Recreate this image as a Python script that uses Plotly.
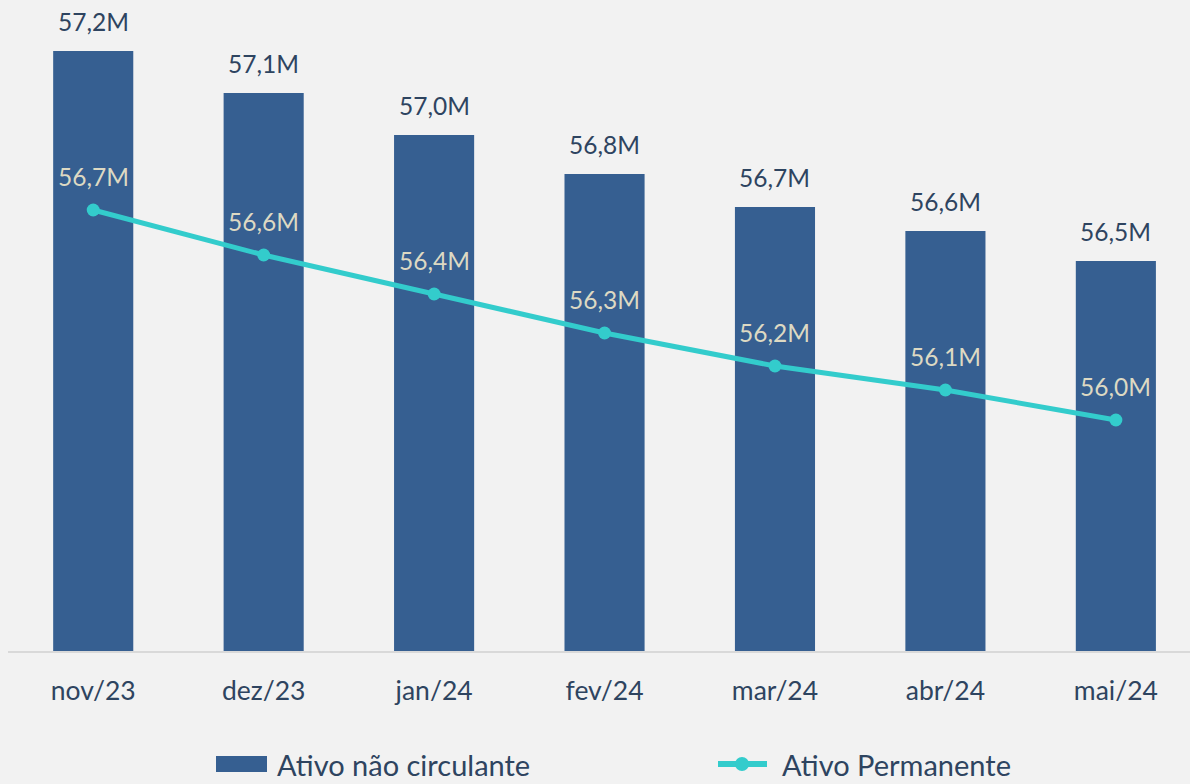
import plotly.graph_objects as go

categories = ["nov/23", "dez/23", "jan/24", "fev/24", "mar/24", "abr/24", "mai/24"]
ativo_nao_circulante = [57.24, 57.10, 56.96, 56.83, 56.72, 56.64, 56.54]
ativo_permanente = [56.71, 56.56, 56.43, 56.30, 56.19, 56.11, 56.01]
series_names = ["Ativo não circulante", "Ativo Permanente"]


def fmt(v):
    return f"{v:.1f}M".replace(".", ",")


FONT = "Lato, 'Open Sans', sans-serif"
BAR_COLOR = "#365f91"
LINE_COLOR = "#33cccc"
TEXT_DARK = "#2e4460"
TEXT_LIGHT = "#ddd9c3"
W, H = 1190, 784
ML, MR, MT, MB = 8, 0, 0, 133
PW, PH = W - ML - MR, H - MT - MB
LEG_Y = 764


def px(x):  # page pixel -> paper x
    return (x - ML) / PW


def py(y):  # page pixel -> paper y
    return (H - MB - y) / PH


fig = go.Figure()
fig.add_trace(go.Bar(
    x=categories, y=ativo_nao_circulante, name=series_names[0],
    marker=dict(color=BAR_COLOR, line=dict(width=0)),
))
fig.add_trace(go.Scatter(
    x=categories, y=ativo_permanente, name=series_names[1],
    mode="lines+markers",
    line=dict(color=LINE_COLOR, width=5),
    marker=dict(color=LINE_COLOR, size=13),
))

annotations = []
for c, v in zip(categories, ativo_nao_circulante):
    annotations.append(dict(x=c, y=v, text=fmt(v), showarrow=False, xref="x", yref="y",
                            yanchor="middle", yshift=30,
                            font=dict(family=FONT, size=24.5, color=TEXT_DARK)))
for c, v in zip(categories, ativo_permanente):
    annotations.append(dict(x=c, y=v, text=fmt(v), showarrow=False, xref="x", yref="y",
                            yanchor="middle", yshift=34,
                            font=dict(family=FONT, size=24.5, color=TEXT_LIGHT)))

# manual legend (plotly's own legend would push the margins)
legend_font = dict(family=FONT, size=29, color=TEXT_DARK)
annotations.append(dict(x=px(275), y=py(LEG_Y), xref="paper", yref="paper", text=series_names[0],
                        showarrow=False, xanchor="left", yanchor="middle", font=legend_font))
annotations.append(dict(x=px(780), y=py(LEG_Y), xref="paper", yref="paper", text=series_names[1],
                        showarrow=False, xanchor="left", yanchor="middle", font=legend_font))
shapes = [
    dict(type="rect", xref="paper", yref="paper", x0=px(216), x1=px(267),
         y0=py(LEG_Y + 8), y1=py(LEG_Y - 8), fillcolor=BAR_COLOR, line=dict(width=0)),
    dict(type="line", xref="paper", yref="paper", x0=px(718), x1=px(767),
         y0=py(LEG_Y), y1=py(LEG_Y), line=dict(color=LINE_COLOR, width=6)),
    dict(type="circle", xref="paper", yref="paper", x0=px(735), x1=px(749),
         y0=py(LEG_Y + 7), y1=py(LEG_Y - 7), fillcolor=LINE_COLOR, line=dict(width=0)),
]

fig.update_layout(
    width=W, height=H, autosize=False,
    margin=dict(l=ML, r=MR, t=MT, b=MB),
    paper_bgcolor="#f2f2f2", plot_bgcolor="#f2f2f2",
    bargap=0.53,
    showlegend=False,
    annotations=annotations,
    shapes=shapes,
    font=dict(family=FONT),
)
fig.update_xaxes(
    range=[-0.5, 6.435], showgrid=False, showline=True, linecolor="#d9d9d9", linewidth=2,
    tickfont=dict(family=FONT, size=26.5, color=TEXT_DARK), ticks="", ticklabelstandoff=15,
)
fig.update_yaxes(range=[55.24, 57.41], visible=False, showgrid=False, zeroline=False)

fig.write_html(
    "out.html",
    config={"displayModeBar": False},
    post_script=(
        "document.documentElement.style.margin='0';"
        "document.body.style.margin='0';"
        "document.body.style.background='#f2f2f2';"
        "document.body.style.overflow='hidden';"
    ),
)
